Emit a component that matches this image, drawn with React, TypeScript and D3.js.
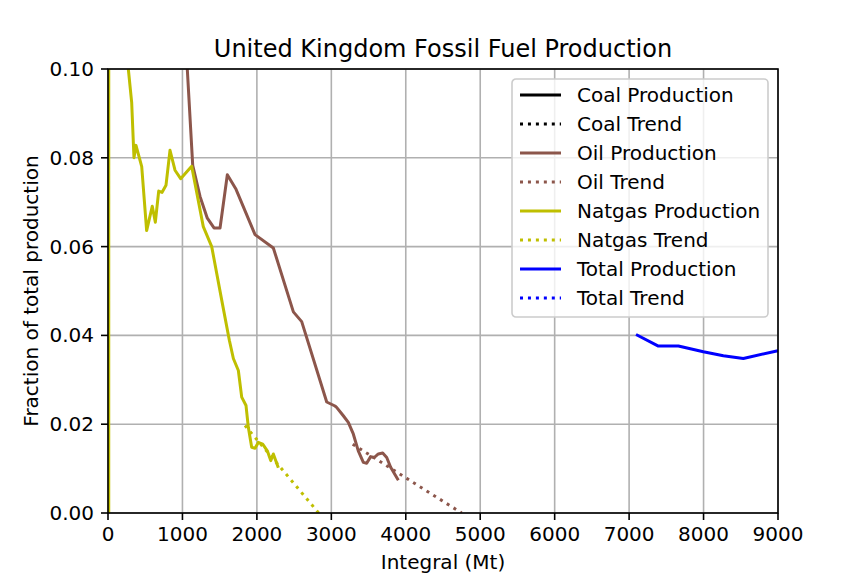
import * as d3 from 'd3'

// Hubbert-style linearization: fraction of total production vs cumulative (Mt)
const coalIntegral: number[] = []
const coalFraction: number[] = []
const coalTrendIntegral: number[] = []
const coalTrendFraction: number[] = []

const oilIntegral = [1040, 1065, 1138, 1236, 1334, 1424, 1505, 1603, 1720, 1975, 2221, 2490, 2602, 2938, 3049, 3071, 3161, 3228, 3295, 3362, 3430, 3475, 3528, 3577, 3631, 3690, 3744, 3797, 3900]
const oilFraction = [0.115, 0.1, 0.0783, 0.0713, 0.0664, 0.0642, 0.0642, 0.0762, 0.0729, 0.0627, 0.0597, 0.0453, 0.0431, 0.025, 0.0241, 0.0238, 0.0219, 0.0204, 0.0178, 0.014, 0.0114, 0.0112, 0.0127, 0.0125, 0.0133, 0.0135, 0.0125, 0.0103, 0.0074]
const oilTrendIntegral = [3287, 4012, 4751]
const oilTrendFraction = [0.0155, 0.0078, 0.0]

const gasIntegral = [10, 12, 200, 273, 318, 349, 376, 453, 519, 595, 636, 681, 725, 779, 833, 900, 976, 1124, 1280, 1393, 1527, 1630, 1684, 1751, 1796, 1854, 1885, 1930, 1975, 2019, 2078, 2140, 2186, 2221, 2288]
const gasFraction = [0.0, 0.9, 0.16, 0.1, 0.0925, 0.08, 0.0828, 0.078, 0.0636, 0.0691, 0.0655, 0.0725, 0.0722, 0.0738, 0.0817, 0.0772, 0.0753, 0.0781, 0.0645, 0.06, 0.048, 0.0389, 0.0348, 0.0321, 0.0261, 0.0242, 0.0193, 0.0148, 0.0146, 0.0159, 0.0155, 0.014, 0.0118, 0.0133, 0.0102]
const gasTrendIntegral = [1840, 2300, 2830]
const gasTrendFraction = [0.0197, 0.0106, 0.0]

const totalIntegral = [7093, 7393, 7662, 7997, 8266, 8534, 8983, 9100]
const totalFraction = [0.0402, 0.0376, 0.0376, 0.0363, 0.0354, 0.0348, 0.0365, 0.0367]
const totalTrendIntegral: number[] = []
const totalTrendFraction: number[] = []

const xTicks = [0, 1000, 2000, 3000, 4000, 5000, 6000, 7000, 8000, 9000]
const yTicks = [0, 0.02, 0.04, 0.06, 0.08, 0.1]

const legendLabels = ['Coal Production', 'Coal Trend', 'Oil Production', 'Oil Trend', 'Natgas Production', 'Natgas Trend', 'Total Production', 'Total Trend']

const width = 864
const height = 576
const margin = { top: 69, right: 86, bottom: 63, left: 108 }
const font = '"DejaVu Sans", sans-serif'

const colors = { coal: '#000000', oil: '#8c564b', gas: '#bfbf00', total: '#0000ff' }

export default function App() {
  const w = width - margin.left - margin.right
  const h = height - margin.top - margin.bottom

  const x = d3.scaleLinear().domain([0, 9000]).range([0, w])
  const y = d3.scaleLinear().domain([0, 0.1]).range([h, 0])

  const line = (xs: number[], ys: number[]) =>
    d3.line<number>().x((d) => x(d)).y((_, i) => y(ys[i]))(xs) ?? ''

  const series = [
    { xs: coalIntegral, ys: coalFraction, color: colors.coal, dotted: false },
    { xs: coalTrendIntegral, ys: coalTrendFraction, color: colors.coal, dotted: true },
    { xs: oilIntegral, ys: oilFraction, color: colors.oil, dotted: false },
    { xs: oilTrendIntegral, ys: oilTrendFraction, color: colors.oil, dotted: true },
    { xs: gasIntegral, ys: gasFraction, color: colors.gas, dotted: false },
    { xs: gasTrendIntegral, ys: gasTrendFraction, color: colors.gas, dotted: true },
    { xs: totalIntegral, ys: totalFraction, color: colors.total, dotted: false },
    { xs: totalTrendIntegral, ys: totalTrendFraction, color: colors.total, dotted: true },
  ]

  const legend = { x: 404, y: 10, w: 256, h: 238, row: 29 }

  return (
    <svg width={width} height={height} style={{ display: 'block', position: 'absolute', left: 0, top: 0 }} fontFamily={font}>
      <rect width={width} height={height} fill="#fff" />
      <defs>
        <clipPath id="plot">
          <rect width={w} height={h} />
        </clipPath>
      </defs>
      <text x={margin.left + w / 2} y={57} textAnchor="middle" fontSize={24}>
        United Kingdom Fossil Fuel Production
      </text>
      <g transform={`translate(${margin.left},${margin.top})`}>
        {/* grid */}
        {xTicks.map((t) => (
          <line key={'gx' + t} x1={x(t)} x2={x(t)} y1={0} y2={h} stroke="#b0b0b0" strokeWidth={1.6} />
        ))}
        {yTicks.map((t) => (
          <line key={'gy' + t} x1={0} x2={w} y1={y(t)} y2={y(t)} stroke="#b0b0b0" strokeWidth={1.6} />
        ))}

        <g clipPath="url(#plot)">
          {series.map((s, i) =>
            s.xs.length > 0 ? (
              <path
                key={i}
                d={line(s.xs, s.ys)}
                fill="none"
                stroke={s.color}
                strokeWidth={3}
                strokeDasharray={s.dotted ? '3,4.95' : undefined}
                strokeLinejoin="round"
              />
            ) : null
          )}
        </g>

        {/* spines */}
        <rect width={w} height={h} fill="none" stroke="#000" strokeWidth={1.6} />

        {/* ticks */}
        {xTicks.map((t) => (
          <g key={'tx' + t} transform={`translate(${x(t)},${h})`}>
            <line y2={7} stroke="#000" strokeWidth={1.6} />
            <text y={27} textAnchor="middle" dominantBaseline="central" fontSize={20} dy={-6}>
              {t}
            </text>
          </g>
        ))}
        {yTicks.map((t) => (
          <g key={'ty' + t} transform={`translate(0,${y(t)})`}>
            <line x2={-7} stroke="#000" strokeWidth={1.6} />
            <text x={-14} textAnchor="end" dominantBaseline="central" fontSize={20}>
              {t.toFixed(2)}
            </text>
          </g>
        ))}

        {/* legend */}
        <g transform={`translate(${legend.x},${legend.y})`}>
          <rect width={legend.w} height={legend.h} rx={4} fill="#fff" fillOpacity={0.8} stroke="#cccccc" strokeWidth={1.6} />
          {legendLabels.map((label, i) => {
            const s = series[i]
            const cy = 16 + i * legend.row
            return (
              <g key={label} transform={`translate(0,${cy})`}>
                <line x1={8} x2={49} stroke={s.color} strokeWidth={3} strokeDasharray={s.dotted ? '3,4.95' : undefined} />
                <text x={65} dominantBaseline="central" fontSize={20}>
                  {label}
                </text>
              </g>
            )
          })}
        </g>
      </g>
      <text x={margin.left + w / 2} y={569} textAnchor="middle" fontSize={20}>
        Integral (Mt)
      </text>
      <text transform={`translate(38,${margin.top + h / 2}) rotate(-90)`} textAnchor="middle" fontSize={20}>
        Fraction of total production
      </text>
    </svg>
  )
}
